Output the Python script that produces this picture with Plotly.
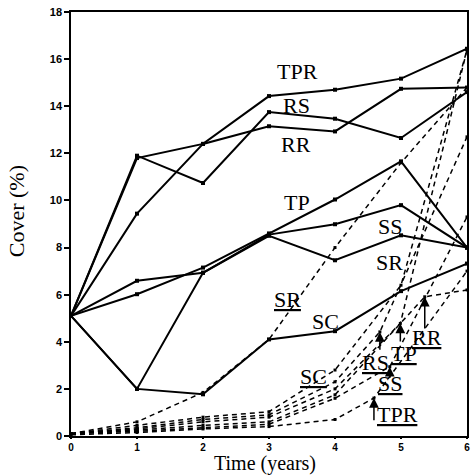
import plotly.graph_objects as go

years = [0, 1, 2, 3, 4, 5, 6]

# Solid lines (treatment series)
solid_TPR = [5.1, 11.8, 12.4, 14.43, 14.7, 15.17, 16.44]
solid_RS = [5.1, 11.9, 10.74, 13.75, 13.47, 12.65, 14.6]
solid_RR = [5.1, 9.44, 12.4, 13.15, 12.93, 14.74, 14.79]
solid_TP = [5.1, 6.02, 7.15, 8.6, 10.04, 11.66, 8.0]
solid_SS = [5.1, 6.59, 6.93, 8.55, 8.99, 9.80, 8.0]
solid_SR = [5.1, 2.0, 6.93, 8.5, 7.46, 8.52, 8.0]
solid_SC = [5.1, 2.0, 1.77, 4.1, 4.45, 6.15, 7.32]

# Dashed lines (underlined series)
dash_SR_x = [0, 1, 2, 3, 4, 5, 6]
dash_SR_y = [0.1, 0.6, 1.85, 4.1, 8.0, 11.6, 14.8]
dash_SC_x = [0, 1, 2, 3, 4, 5, 6]
dash_SC_y = [0.1, 0.45, 0.8, 1.03, 2.8, 6.4, 16.4]
dash_RS_x = [0, 1, 2, 3, 4, 4.68, 6]
dash_RS_y = [0.1, 0.35, 0.7, 0.9, 2.3, 4.42, 12.7]
dash_TP_x = [0, 1, 2, 3, 4, 4.99, 6]
dash_TP_y = [0.1, 0.3, 0.6, 0.8, 2.0, 4.78, 16.4]
dash_RR_x = [0, 1, 2, 3, 4, 5.36, 6]
dash_RR_y = [0.1, 0.25, 0.45, 0.6, 1.75, 5.91, 6.2]
dash_SS_x = [0, 1, 2, 3, 4, 4.83, 6]
dash_SS_y = [0.1, 0.2, 0.35, 0.5, 1.6, 2.94, 9.3]
dash_TPR_x = [0, 1, 2, 3, 4, 4.59, 6]
dash_TPR_y = [0.05, 0.15, 0.3, 0.4, 0.7, 1.61, 7.0]

# Labels for solid lines: (text, x, y)
solid_labels = [("TPR", 3.43, 15.46), ("RS", 3.41, 14.04), ("RR", 3.41, 12.36),
                ("TP", 3.43, 9.9), ("SS", 4.84, 8.88), ("SR", 4.83, 7.36),
                ("SC", 3.85, 4.88)]
# Labels for dashed lines (underlined)
dash_labels = [("SR", 3.28, 5.79), ("SC", 3.67, 2.54), ("RS", 4.62, 3.12),
               ("TP", 5.05, 3.5), ("RR", 5.4, 4.18), ("SS", 4.84, 2.25),
               ("TPR", 4.94, 0.93)]
# Arrows: (x, tip_y, tail_y)
arrows = [(4.59, 1.61, 0.6), (4.83, 2.94, 2.4), (4.68, 4.42, 3.6),
          (4.99, 4.78, 3.95), (5.36, 5.91, 4.5)]

y_ticks = [0, 2, 4, 6, 8, 10, 12, 14, 16, 18]

fig = go.Figure()

for ys in [solid_TPR, solid_RS, solid_RR, solid_TP, solid_SS, solid_SR, solid_SC]:
    fig.add_trace(go.Scatter(x=years, y=ys, mode="lines+markers",
                             line=dict(color="black", width=2),
                             marker=dict(symbol="square", size=4, color="black"),
                             cliponaxis=False, showlegend=False, hoverinfo="skip"))

for xs, ys in [(dash_SR_x, dash_SR_y), (dash_SC_x, dash_SC_y), (dash_RS_x, dash_RS_y),
               (dash_TP_x, dash_TP_y), (dash_RR_x, dash_RR_y), (dash_SS_x, dash_SS_y),
               (dash_TPR_x, dash_TPR_y)]:
    fig.add_trace(go.Scatter(x=xs, y=ys, mode="lines+markers",
                             line=dict(color="black", width=1.5, dash="5px,4px"),
                             marker=dict(symbol="square", size=3, color="black"),
                             cliponaxis=False, showlegend=False, hoverinfo="skip"))

serif = "Liberation Serif, Times New Roman, serif"
annotations = []
for t, x, y in solid_labels:
    annotations.append(dict(x=x, y=y, xref="x", yref="y", text=t, showarrow=False,
                            font=dict(family=serif, size=22, color="black")))
for t, x, y in dash_labels:
    annotations.append(dict(x=x, y=y, xref="x", yref="y", text="<u>" + t + "</u>",
                            showarrow=False,
                            font=dict(family=serif, size=22, color="black")))
for x, tip, tail in arrows:
    annotations.append(dict(x=x, y=tip, xref="x", yref="y", ax=x, ay=tail,
                            axref="x", ayref="y", text="", showarrow=True,
                            arrowhead=2, arrowsize=1.3, arrowwidth=1.5,
                            arrowcolor="black"))

plot_w = 471 - 71 - 2
plot_h = 475 - 12 - 39
annotations.append(dict(x=(16 - 71) / plot_w, y=(475 - 39 - 211) / plot_h,
                        xref="paper", yref="paper", text="Cover (%)",
                        showarrow=False, textangle=-90,
                        xanchor="center", yanchor="middle",
                        font=dict(family=serif, size=22, color="black")))
annotations.append(dict(x=(266 - 71) / plot_w, y=(475 - 39 - 463) / plot_h,
                        xref="paper", yref="paper", text="Time (years)",
                        showarrow=False, xanchor="center", yanchor="middle",
                        borderpad=0,
                        font=dict(family=serif, size=20, color="black")))

fig.update_layout(
    width=471, height=475,
    margin=dict(l=71, r=2, t=12, b=39),
    paper_bgcolor="white", plot_bgcolor="white",
    annotations=annotations,
    xaxis=dict(range=[0, 6], tickvals=years, ticks="outside", ticklen=1,
               tickwidth=1.5, tickcolor="black", showline=True, linecolor="black",
               linewidth=1.5, mirror=True, showgrid=False, zeroline=False,
               tickfont=dict(family="Liberation Sans, Arial", size=10, color="black",
                             weight="bold")),
    yaxis=dict(range=[0, 18], tickvals=y_ticks, ticks="outside", ticklen=5,
               tickwidth=1.5, tickcolor="black", showline=True, linecolor="black",
               linewidth=1.5, mirror=True, showgrid=False, zeroline=False,
               tickfont=dict(family="Liberation Sans, Arial", size=11, color="black",
                             weight="bold")),
)

fig.write_html("out.html")
